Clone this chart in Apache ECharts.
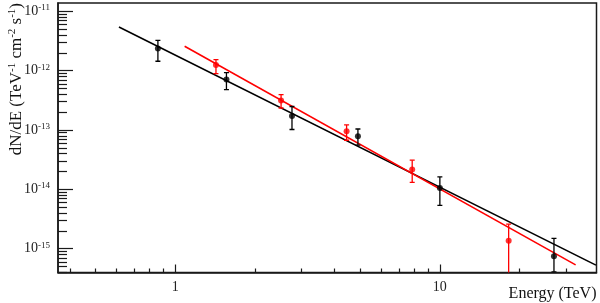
<!DOCTYPE html>
<html>
<head>
<meta charset="utf-8">
<script src="https://cdn.jsdelivr.net/npm/echarts@6/dist/echarts.min.js"></script>
<style>
html,body{margin:0;padding:0;background:#fff;}
#chart{width:600px;height:303px;}
</style>
</head>
<body>
<div id="chart"></div>
<script>
// ---- data (Energy in TeV, dN/dE in TeV^-1 cm^-2 s^-1) ----
const energyBlack = [0.859, 1.56, 2.76, 4.90, 10.0, 27.0];
const fluxBlack   = [2.36e-12, 7.08e-13, 1.73e-13, 7.87e-14, 1.06e-14, 7.50e-16];
const errHiBlack  = [3.25e-12, 9.29e-13, 2.49e-13, 1.04e-13, 1.62e-14, 1.49e-15];
const errLoBlack  = [1.44e-12, 4.81e-13, 1.02e-13, 5.55e-14, 5.36e-15, 4.08e-16];

const energyRed = [1.424, 2.51, 4.44, 7.86, 18.2];
const fluxRed   = [1.25e-12, 3.14e-13, 9.55e-14, 2.16e-14, 1.36e-15];
const errHiRed  = [1.54e-12, 3.96e-13, 1.22e-13, 3.10e-14, 2.59e-15];
const errLoRed  = [8.93e-13, 2.35e-13, 6.73e-14, 1.31e-14, 1e-17];

const fitBlackE = [0.612, 38.9];
const fitBlackF = [5.45e-12, 5.30e-16];
const fitRedE   = [1.084, 32.6];
const fitRedF   = [2.58e-12, 5.36e-16];

const energyRange = [0.36, 39.1];
const fluxRange   = [3.98e-16, 1.38e-11];

const xMajorTicks = [1, 10];
const xTickLabels = ['1', '10'];
const xMinorTicks = [0.4, 0.5, 0.6, 0.7, 0.8, 0.9, 2, 3, 4, 5, 6, 7, 8, 9, 20, 30];
const yMajorExponents = [-15, -14, -13, -12, -11];
const yMinorMultipliers = [2, 3, 4, 5, 6, 7, 8, 9];

const xTitle = 'Energy (TeV)';
const yTitle = '{m|dN/dE (TeV}{s|-1}{m| cm}{s|-2}{m| s}{s|-1}{m|)}';

// ---- helpers ----
const L = Math.log10;
const FONT = 'Liberation Serif';
const xMin = L(energyRange[0]), xMax = L(energyRange[1]);
const yMin = L(fluxRange[0]), yMax = L(fluxRange[1]);

const yMinorLog = [];
for (let e = -16; e <= -11; e++) {
  yMinorMultipliers.forEach(k => {
    const v = e + L(k);
    if (v > yMin && v < yMax) yMinorLog.push(v);
  });
}
const xMinorLog = xMinorTicks.map(L);
const xMajorLog = xMajorTicks.map(L);

function pts(E, F) { return E.map((e, i) => [L(e), L(F[i])]); }
function bars(E, lo, hi) { return E.map((e, i) => [L(e), L(lo[i]), L(hi[i])]); }

function errRender(color) {
  return function (params, api) {
    const x = api.value(0);
    const pLo = api.coord([x, api.value(1)]);
    const pHi = api.coord([x, api.value(2)]);
    const cw = 2.5;
    const st = { stroke: color, lineWidth: 1.3 };
    return {
      type: 'group',
      children: [
        { type: 'line', shape: { x1: pLo[0], y1: pLo[1], x2: pHi[0], y2: pHi[1] }, style: st },
        { type: 'line', shape: { x1: pHi[0] - cw, y1: pHi[1], x2: pHi[0] + cw, y2: pHi[1] }, style: st },
        { type: 'line', shape: { x1: pLo[0] - cw, y1: pLo[1], x2: pLo[0] + cw, y2: pLo[1] }, style: st }
      ]
    };
  };
}

const chart = echarts.init(document.getElementById('chart'), null, { renderer: 'canvas' });

const axisLineStyle = { color: '#1a1a1a', width: 1.5 };

chart.setOption({
  animation: false,
  backgroundColor: '#ffffff',
  grid: {
    left: 58, right: 3.5, top: 3, bottom: 30.5,
    show: true, borderColor: '#1a1a1a', borderWidth: 1.5, backgroundColor: 'transparent'
  },
  xAxis: [
    {
      type: 'value', min: xMin, max: xMax, position: 'bottom',
      axisLine: { show: true, onZero: false, lineStyle: axisLineStyle },
      axisTick: { show: true, inside: true, length: 8, customValues: xMajorLog, lineStyle: { color: '#1a1a1a', width: 1.2 } },
      axisLabel: {
        show: true, customValues: xMajorLog, margin: 8,
        fontFamily: FONT, fontSize: 14, color: '#222',
        formatter: v => xTickLabels[xMajorLog.findIndex(t => Math.abs(t - v) < 1e-6)] || ''
      },
      splitLine: { show: false },
      name: xTitle, nameLocation: 'end', nameGap: 0,
      nameTextStyle: { fontFamily: FONT, fontSize: 16, color: '#111', align: 'right', verticalAlign: 'top', padding: [13, 0, 0, 0] }
    },
    {
      type: 'value', min: xMin, max: xMax, position: 'bottom',
      axisLine: { show: false, onZero: false },
      axisTick: { show: true, inside: true, length: 4, customValues: xMinorLog, lineStyle: { color: '#1a1a1a', width: 1.2 } },
      axisLabel: { show: false },
      splitLine: { show: false }
    }
  ],
  yAxis: [
    {
      type: 'value', min: yMin, max: yMax, position: 'left',
      axisLine: { show: true, onZero: false, lineStyle: axisLineStyle },
      axisTick: { show: true, inside: true, length: 15, customValues: yMajorExponents, lineStyle: { color: '#1a1a1a', width: 1.2 } },
      axisLabel: {
        show: true, customValues: yMajorExponents, margin: 8,
        formatter: v => '{b|10}{s|' + Math.round(v) + '}',
        rich: {
          b: { fontFamily: FONT, fontSize: 14, color: '#222', lineHeight: 16 },
          s: { fontFamily: FONT, fontSize: 9, color: '#222', lineHeight: 10, verticalAlign: 'top' }
        }
      },
      splitLine: { show: false }
    },
    {
      type: 'value', min: yMin, max: yMax, position: 'left',
      axisLine: { show: false, onZero: false },
      axisTick: { show: true, inside: true, length: 9, customValues: yMinorLog, lineStyle: { color: '#1a1a1a', width: 1.2 } },
      axisLabel: { show: false },
      splitLine: { show: false }
    }
  ],
  graphic: [
    {
      type: 'text', x: 17, y: 3, rotation: Math.PI / 2, silent: true,
      style: {
        text: yTitle, align: 'right', verticalAlign: 'middle',
        rich: {
          m: { fontFamily: FONT, fontSize: 17, fill: '#111', lineHeight: 20 },
          s: { fontFamily: FONT, fontSize: 11, fill: '#111', lineHeight: 12, verticalAlign: 'top' }
        }
      }
    }
  ],
  series: [
    {
      name: 'fit black', type: 'line', xAxisIndex: 0, yAxisIndex: 0,
      data: pts(fitBlackE, fitBlackF), symbol: 'none', clip: true,
      lineStyle: { color: '#000', width: 1.6 }, z: 2
    },
    {
      name: 'fit red', type: 'line', xAxisIndex: 0, yAxisIndex: 0,
      data: pts(fitRedE, fitRedF), symbol: 'none', clip: true,
      lineStyle: { color: '#ff0000', width: 1.6 }, z: 3
    },
    {
      name: 'err black', type: 'custom', xAxisIndex: 0, yAxisIndex: 0, clip: true,
      renderItem: errRender('#000'), data: bars(energyBlack, errLoBlack, errHiBlack), z: 4
    },
    {
      name: 'err red', type: 'custom', xAxisIndex: 0, yAxisIndex: 0, clip: true,
      renderItem: errRender('#ff0000'), data: bars(energyRed, errLoRed, errHiRed), z: 4
    },
    {
      name: 'black', type: 'scatter', xAxisIndex: 0, yAxisIndex: 0,
      data: pts(energyBlack, fluxBlack), symbol: 'circle', symbolSize: 6,
      itemStyle: { color: '#000' }, z: 5
    },
    {
      name: 'red', type: 'scatter', xAxisIndex: 0, yAxisIndex: 0,
      data: pts(energyRed, fluxRed), symbol: 'circle', symbolSize: 6,
      itemStyle: { color: '#ff0000' }, z: 5
    }
  ]
});
</script>
</body>
</html>
